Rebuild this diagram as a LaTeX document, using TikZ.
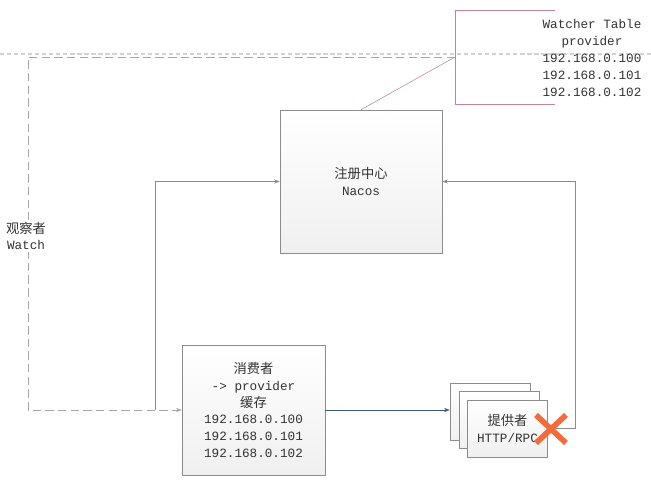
\documentclass[tikz,border=0pt]{standalone}
\usepackage{fontspec}
\setmainfont{Liberation Mono}
\newfontfamily\cjk{Noto Sans CJK SC}[Scale=1.05]
\usetikzlibrary{arrows.meta,positioning}
\definecolor{BoxLine}{RGB}{140,140,140}
\definecolor{TablePink}{RGB}{200,130,148}
\definecolor{SendBlue}{RGB}{60,85,125}
\definecolor{CrossOrange}{RGB}{242,107,58}

\begin{document}
\begin{tikzpicture}[x=0.025cm, y=-0.025cm, every node/.style={align=center, font=\fontsize{9}{12}\selectfont, text=black!80}]
\useasboundingbox (0,0) rectangle (651,482);
\tikzset{
  grbox/.style={draw=BoxLine, top color=white, bottom color=gray!12},
  provbox/.style={grbox, minimum width=2cm, minimum height=1.425cm},
  link/.style={BoxLine, -{Stealth[length=4pt]}}
}
% guide line of the screen
\draw[gray!35, densely dashed, line width=0.8pt] (0,54) -- (651,54);
% watcher table
\draw[TablePink] (555,10) -- (455,10) -- (455,104) -- (555,104);
\node (table) at (592,58) {Watcher Table\\provider\\192.168.0.100\\192.168.0.101\\192.168.0.102};
\coordinate (tbl) at (455,57);
\node[grbox, minimum width=4.05cm, minimum height=3.575cm] (nacos) at (361,181.5) {{\cjk 注册中心}\\Nacos};
\node[grbox, minimum width=3.575cm, minimum height=3.25cm] (consumer) at (253.5,410) {{\cjk 消费者}\\-> provider\\{\cjk 缓存}\\192.168.0.100\\192.168.0.101\\192.168.0.102};
\node[provbox] (prov1) at (490,411.5) {};
\node[provbox] (prov2) at (499,420) {};
\node[provbox] (prov3) at (507.5,428.5) {{\cjk 提供者}\\HTTP/RPC};
\draw[TablePink] (tbl) -- (nacos.north);
\draw[gray!70, dash pattern=on 6pt off 3pt, -{Stealth[length=4pt]}] (tbl) -- (28,57) |- (consumer.west);
\node[fill=white, inner sep=1pt] (watch) at (26,236) {{\cjk 观察者}\\Watch};
\coordinate (tap) at (155,410);
\draw[link] (tap) |- (nacos.west);
\draw[SendBlue, -{Stealth[length=4pt]}] (consumer.east) -- (consumer.east -| prov1.west);
\draw[link] (prov3.east) -- ++(27,0) |- (nacos.east);
% provider is down
\draw[CrossOrange, line width=4pt] (536,415) -- (566,443) (566,415) -- (536,443);
\end{tikzpicture}
\end{document}
